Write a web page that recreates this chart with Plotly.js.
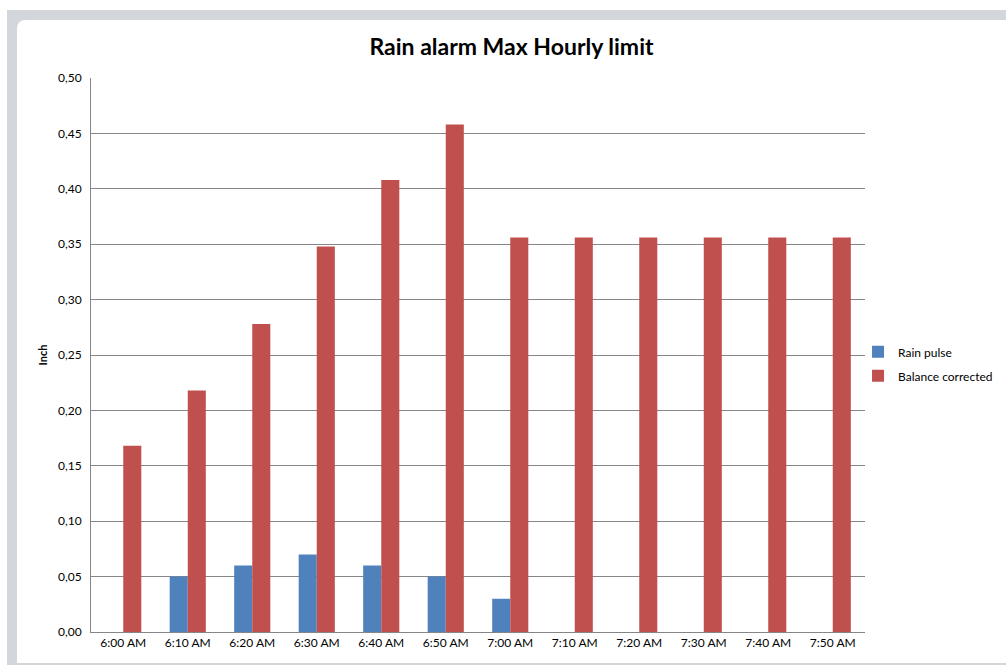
<!DOCTYPE html>
<html>
<head>
<meta charset="utf-8">
<script src="https://cdn.plot.ly/plotly-3.0.1.min.js"></script>
<style>
html,body{margin:0;padding:0;width:1006px;height:665px;overflow:hidden;background:#ffffff;}
#frame{position:absolute;left:7px;top:10px;width:999px;height:655px;background:#d3d6da;}
#chart{position:absolute;left:17px;top:20px;width:989px;height:643px;background:#ffffff;border-top-left-radius:8px;overflow:hidden;}
</style>
</head>
<body>
<div id="frame"></div>
<div id="chart"></div>
<script>
var categories = ["6:00 AM","6:10 AM","6:20 AM","6:30 AM","6:40 AM","6:50 AM","7:00 AM","7:10 AM","7:20 AM","7:30 AM","7:40 AM","7:50 AM"];
var rainPulse = [0, 0.05, 0.06, 0.07, 0.06, 0.05, 0.03, 0, 0, 0, 0, 0];
var balanceCorrected = [0.168, 0.218, 0.278, 0.348, 0.408, 0.458, 0.356, 0.356, 0.356, 0.356, 0.356, 0.356];
var yTicks = [0, 0.05, 0.10, 0.15, 0.20, 0.25, 0.30, 0.35, 0.40, 0.45, 0.50];

var font = "Lato, 'Open Sans', sans-serif";
var data = [
  {type:"bar", name:"Rain pulse", x:categories, y:rainPulse, legendgroup:"a",
   marker:{color:"#4F81BD", line:{width:0}}},
  {type:"bar", name:"Balance corrected", x:categories, y:balanceCorrected, legendgroup:"b",
   marker:{color:"#C0504D", line:{width:0}}}
];
var layout = {
  width:989, height:643,
  paper_bgcolor:"rgba(0,0,0,0)", plot_bgcolor:"#ffffff",
  margin:{l:74, r:141, t:58, b:31, autoexpand:false},
  separators:",.",
  barmode:"group", bargap:0.44, bargroupgap:0,
  font:{family:font, size:12, color:"#000000"},
  title:{text:"<b>Rain alarm Max Hourly limit</b>", x:0.5, xanchor:"center", y:0.958, yanchor:"middle",
         font:{family:font, size:23, color:"#000000"}},
  xaxis:{type:"category", showline:true, linecolor:"#868686", linewidth:1, ticks:"",
         tickfont:{family:font, size:12}, showgrid:false},
  yaxis:{range:[0,0.5], tickvals:yTicks, tickformat:".2f", showline:true, linecolor:"#868686", linewidth:1,
         gridcolor:"#868686", gridwidth:1, ticks:"", ticklabelstandoff:6, zeroline:false,
         tickfont:{family:font, size:12},
         title:{text:"<b>Inch</b>", font:{family:font, size:11}, standoff:8}},
  legend:{x:0.991, y:0.484, xanchor:"left", yanchor:"middle", font:{family:font, size:12},
          traceorder:"grouped", tracegroupgap:5, itemwidth:30, bgcolor:"rgba(0,0,0,0)"},
  showlegend:true
};
Plotly.newPlot("chart", data, layout, {displayModeBar:false, staticPlot:true});
</script>
</body>
</html>
